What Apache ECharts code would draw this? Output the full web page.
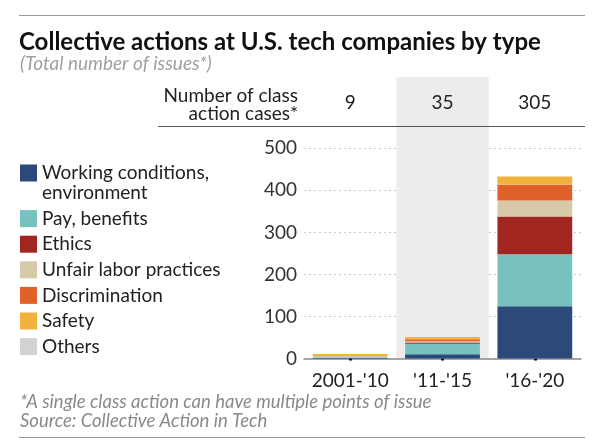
<!DOCTYPE html>
<html><head><meta charset="utf-8">
<script src="https://cdn.jsdelivr.net/npm/echarts@6/dist/echarts.min.js"></script>
<style>html,body{margin:0;padding:0;background:#fff}#c{width:600px;height:444px}</style>
</head><body><div id="c"></div>
<script>
const categories = ["2001-'10", "'11-'15", "'16-'20"];
const caseCounts = ["9", "35", "305"];
const yTicks = [0, 100, 200, 300, 400, 500];
const seriesNames = ["Working conditions,\nenvironment", "Pay, benefits", "Ethics", "Unfair labor practices", "Discrimination", "Safety", "Others"];
const working = [1, 10, 124];
const pay = [2, 25, 124];
const ethics = [0, 3, 90];
const unfair = [3, 3, 38];
const discrimination = [0, 5, 37];
const safety = [5, 5, 20];
const others = [0, 0, 0];
const colors = ['#2b4a7a', '#77c2bf', '#a1261f', '#d7caa8', '#e0622a', '#f1b33e', '#d2d2d2'];

const values = [working, pay, ethics, unfair, discrimination, safety, others];
const FONT = 'Lato';
const chart = echarts.init(document.getElementById('c'), null, {renderer: 'canvas'});
const bandColors = ['rgba(0,0,0,0)', '#ececec'];

const series = values.map((v, i) => ({
  name: seriesNames[i], type: 'bar', stack: 'all', data: v,
  xAxisIndex: 0, yAxisIndex: 0, barWidth: '81%',
  itemStyle: {color: colors[i]}
}));

chart.setOption({
  animation: false,
  textStyle: {fontFamily: FONT},
  title: [
    {text: 'Collective actions at U.S. tech companies by type', left: 19, top: 30, padding: 0,
     textStyle: {fontFamily: FONT, fontSize: 24, fontWeight: 'bold', color: '#111'}},
    {text: '(Total number of issues*)', left: 20, top: 54, padding: 0,
     textStyle: {fontFamily: FONT, fontSize: 19, fontStyle: 'italic', fontWeight: 'normal', color: '#a0a0a0'}}
  ],
  legend: {
    orient: 'vertical', left: 20, top: 143, padding: 0, itemWidth: 17, itemHeight: 17, itemGap: 5.6,
    icon: 'rect', selectedMode: false,
    textStyle: {fontFamily: FONT, fontSize: 19, color: '#222', lineHeight: 20},
    formatter: n => (n === seriesNames[0] ? '\n' + n : n),
    data: seriesNames
  },
  grid: [
    {left: 304, right: 19, top: 148.3, bottom: 85.5},
    {left: 304, right: 19, top: 77, height: 71.3}
  ],
  xAxis: [
    {type: 'category', gridIndex: 0, data: categories,
     axisLine: {lineStyle: {color: '#8a8a8a', width: 1.5}},
     axisTick: {show: true, alignWithLabel: true, interval: 0, length: 2, lineStyle: {color: '#111', width: 3}},
     axisLabel: {interval: 0, fontFamily: FONT, fontSize: 19, color: '#222', margin: 13},
     splitArea: {show: true, interval: 0, areaStyle: {color: bandColors}}},
    {type: 'category', gridIndex: 1, data: caseCounts, position: 'top',
     axisLine: {show: false}, axisTick: {show: false},
     axisLabel: {interval: 0, inside: true, margin: 16, fontFamily: FONT, fontSize: 19, color: '#222'},
     splitArea: {show: true, interval: 0, areaStyle: {color: bandColors}}}
  ],
  yAxis: [
    {type: 'value', gridIndex: 0, min: yTicks[0], max: yTicks[yTicks.length - 1], interval: 100,
     axisLine: {show: false}, axisTick: {show: false},
     axisLabel: {fontFamily: FONT, fontSize: 19, color: '#333', margin: 7},
     splitLine: {show: true, lineStyle: {color: '#c8c8c8', type: [2, 3], width: 1}}},
    {type: 'value', gridIndex: 1, show: false, min: 0, max: 1}
  ],
  series: series,
  graphic: [
    {type: 'line', shape: {x1: 19, y1: 15.5, x2: 585, y2: 15.5}, style: {stroke: '#999', lineWidth: 1}},
    {type: 'line', shape: {x1: 158, y1: 126.5, x2: 585, y2: 126.5}, style: {stroke: '#555', lineWidth: 1}, z: 10},
    {type: 'text', x: 298, y: 87, style: {text: 'Number of class\naction cases*', align: 'right', font: '19px ' + FONT, fill: '#222', lineHeight: 18}},
    {type: 'text', x: 20, y: 392, style: {text: '*A single class action can have multiple points of issue\nSource: Collective Action in Tech', font: 'italic 18.5px ' + FONT, fill: '#8a8a8a', lineHeight: 19.5}},
    {type: 'line', shape: {x1: 19, y1: 437.5, x2: 585, y2: 437.5}, style: {stroke: '#999', lineWidth: 1}}
  ]
});
</script></body></html>
